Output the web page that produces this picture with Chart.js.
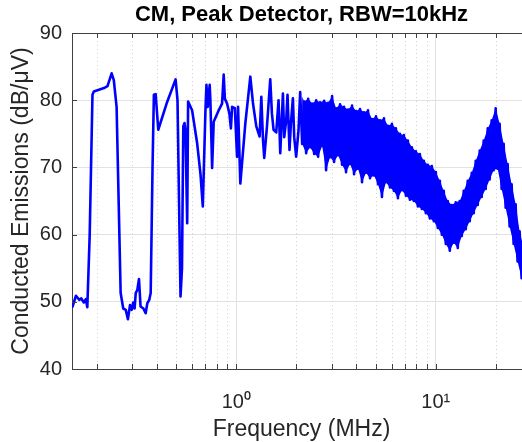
<!DOCTYPE html>
<html><head><meta charset="utf-8">
<script src="https://cdn.jsdelivr.net/npm/chart.js@4.4.1/dist/chart.umd.min.js"></script>
<style>html,body{margin:0;padding:0;background:#fff;overflow:hidden;} #wrap{width:540px;height:442px;}</style>
</head><body><div id="wrap"><canvas id="c" width="540" height="442"></canvas></div>
<script>
const titleText = 'CM, Peak Detector, RBW=10kHz';
const xTitle = 'Frequency (MHz)';
const yTitle = 'Conducted Emissions (dB/μV)';
const yTicks = [40, 50, 60, 70, 80, 90];
const xMajorTicks = [1, 10];
const xMajorLabels = ['10⁰', '10¹'];
const xMinorTicks = [0.2, 0.3, 0.4, 0.5, 0.6, 0.7, 0.8, 0.9, 2, 3, 4, 5, 6, 7, 8, 9, 20, 30];

// measured trace (MHz, dBμV)
const freqMHz = [
  0.151, 0.157, 0.163, 0.167, 0.172, 0.176, 0.179, 0.184, 0.190, 0.193,
  0.217, 0.226, 0.237, 0.243, 0.251, 0.257, 0.263, 0.271, 0.279, 0.286,
  0.293, 0.299, 0.304, 0.309, 0.313, 0.319, 0.325, 0.331, 0.342, 0.351,
  0.358, 0.366, 0.372, 0.380, 0.386, 0.394, 0.406,
  0.447, 0.496, 0.507, 0.516, 0.525, 0.534, 0.542, 0.550, 0.556, 0.567,
  0.573, 0.600, 0.636, 0.661, 0.679, 0.700, 0.708, 0.719, 0.735, 0.741,
  0.756, 0.770, 0.816, 0.848, 0.864, 0.876, 0.898, 0.923, 0.939, 0.952,
  0.983, 1.008, 1.020, 1.047,
  1.109, 1.175, 1.212, 1.259, 1.308, 1.334, 1.360, 1.380, 1.424, 1.479,
  1.508, 1.537, 1.585, 1.628, 1.660, 1.712, 1.738, 1.778, 1.805, 1.847,
  1.877, 1.921, 1.950, 1.995, 2.049,
  2.089, 2.138, 2.188, 2.239, 2.291, 2.344, 2.399, 2.455, 2.512, 2.570,
  2.630, 2.692, 2.754, 2.818, 2.884, 2.951, 3.020, 3.090, 3.162, 3.236,
  3.311, 3.388, 3.467, 3.548, 3.631, 3.715, 3.802, 3.891, 3.981, 4.074,
  4.169, 4.266, 4.365, 4.467, 4.571, 4.677, 4.786, 4.898, 5.012, 5.129,
  5.248, 5.370, 5.495, 5.623, 5.754, 5.888, 6.026, 6.166, 6.310, 6.457,
  6.607, 6.761, 6.918, 7.080, 7.244, 7.413, 7.586, 7.762, 7.943, 8.128,
  8.318, 8.511, 8.710, 8.913, 9.120, 9.333, 9.550, 9.772, 10.00, 10.23,
  10.47, 10.72, 10.96, 11.22, 11.48, 11.75, 12.02, 12.30, 12.59, 12.88,
  13.18, 13.49, 13.80, 14.13, 14.45, 14.79, 15.14, 15.49, 15.85, 16.22,
  16.60, 16.98, 17.38, 17.78, 18.20, 18.62, 19.05, 19.50, 19.95, 20.42,
  20.89, 21.38, 21.88, 22.39, 22.91, 23.44, 23.99, 24.55, 25.12, 25.70,
  26.30, 26.92, 27.54, 28.18, 28.84, 29.51
];

const levelDb = [
  49.3, 50.9, 50.3, 50.5, 49.9, 50.4, 49.2, 60.0, 80.8, 81.3,
  81.8, 82.1, 84.0, 83.0, 79.0, 65.0, 51.3, 49.0, 48.8, 47.4,
  49.5, 48.8, 49.9, 49.0, 51.3, 51.8, 53.4, 49.3, 49.0, 48.3,
  49.8, 50.3, 51.3, 70.0, 80.8, 80.9, 75.6,
  79.5, 83.1, 80.0, 65.0, 50.8, 55.0, 76.1, 76.6, 75.5, 61.7,
  79.8, 78.5, 73.6, 69.0, 64.2, 78.5, 82.3, 79.0, 82.3, 80.0,
  69.9, 76.8, 78.5, 79.5, 83.8, 80.2, 79.5, 78.0, 75.8, 79.0,
  78.8, 71.6, 79.0, 67.6,
  76.5, 83.5, 79.5, 76.1, 74.6, 80.5, 74.1, 71.4, 76.1, 83.1,
  78.0, 75.6, 75.2, 80.0, 72.1, 81.0, 74.5, 77.0, 80.8, 72.6,
  76.5, 80.3, 74.5, 71.6, 75.5,
  81.2, 73.5, 79.8, 72.1, 80.2, 73.0, 79.5, 72.0, 80.0, 71.6,
  79.7, 73.2, 79.9, 69.6, 79.6, 71.5, 80.6, 70.8, 78.8, 71.8,
  79.4, 70.4, 79.0, 69.3, 78.6, 70.5, 79.2, 69.0, 78.4, 69.8,
  78.7, 67.8, 78.2, 69.2, 78.5, 68.4, 77.2, 68.8, 77.6, 67.5,
  77.0, 65.6, 77.3, 67.8, 76.2, 67.0, 76.5, 66.5, 75.8, 65.4,
  75.0, 66.6, 74.8, 65.8, 74.0, 65.2, 73.0, 65.0, 72.4, 64.2,
  72.0, 63.8, 71.0, 63.2, 70.4, 62.4, 70.2, 62.0, 69.3, 61.0,
  68.0, 60.0, 66.5, 58.6, 65.0, 57.6, 64.4, 58.8, 64.8, 58.0,
  65.0, 59.8, 66.5, 60.8, 68.0, 62.0, 69.2, 63.2, 71.0, 64.4,
  72.5, 65.6, 74.0, 66.8, 75.8, 68.2, 77.0, 69.6, 78.8, 69.8,
  76.5, 66.8, 73.5, 64.0, 70.5, 61.2, 67.5, 58.6, 64.5, 56.0,
  60.5, 53.5, 58.0, 52.2, 56.5, 50.8
];

// the dense part of the trace (from 2.09 MHz) alternates peak / trough samples
const denseStartIndex = 96;

const FONT = 'Liberation Sans, Arial, Helvetica, sans-serif';
const TEXT = '#262626';
const AXIS = '#404040';
const GRID = '#e2e2e2';
const BLUE = '#0000ff';

const tracePoints = freqMHz.map((f, i) => ({x: f, y: levelDb[i]}));
const densePoints = tracePoints.slice(denseStartIndex);
const peakPoints = densePoints.filter((p, i) => i % 2 === 0);
const troughPoints = densePoints.filter((p, i) => i % 2 === 1);

const matlabAxes = {
  id: 'matlabAxes',
  beforeDatasetsDraw(chart) {
    const {ctx, chartArea: a, scales: {x}} = chart;
    ctx.save();
    ctx.strokeStyle = '#d2d2d2';
    ctx.lineWidth = 1;
    ctx.setLineDash([1, 3]);
    xMinorTicks.forEach(v => {
      const px = Math.round(x.getPixelForValue(v)) + 0.5;
      ctx.beginPath(); ctx.moveTo(px, a.top); ctx.lineTo(px, a.bottom); ctx.stroke();
    });
    ctx.restore();
  },
  afterDraw(chart) {
    const {ctx, chartArea: a, scales: {x, y}} = chart;
    ctx.save();
    ctx.strokeStyle = AXIS;
    ctx.lineWidth = 1;
    ctx.beginPath();
    const top = Math.round(a.top) + 0.5;
    const right = Math.round(a.right) + 0.5;
    ctx.moveTo(a.left, top); ctx.lineTo(right, top); ctx.lineTo(right, a.bottom);
    [...xMinorTicks, ...xMajorTicks].forEach(v => {
      const px = Math.round(x.getPixelForValue(v)) + 0.5;
      ctx.moveTo(px, a.bottom); ctx.lineTo(px, a.bottom - 5);
      ctx.moveTo(px, a.top); ctx.lineTo(px, a.top + 5);
    });
    yTicks.forEach(v => {
      const py = Math.round(y.getPixelForValue(v)) + 0.5;
      ctx.moveTo(a.left, py); ctx.lineTo(a.left + 5, py);
      ctx.moveTo(a.right, py); ctx.lineTo(a.right - 5, py);
    });
    ctx.stroke();
    ctx.restore();
  }
};

new Chart(document.getElementById('c'), {
  type: 'line',
  data: {
    datasets: [
      {
        data: tracePoints,
        borderColor: BLUE, borderWidth: 2.6,
        pointRadius: 0, tension: 0, fill: false,
        borderJoinStyle: 'round', borderCapStyle: 'round', order: 0
      },
      {
        data: peakPoints,
        borderColor: BLUE, borderWidth: 0, backgroundColor: BLUE,
        pointRadius: 0, tension: 0, fill: '+1', order: 1
      },
      {
        data: troughPoints,
        borderColor: BLUE, borderWidth: 0,
        pointRadius: 0, tension: 0, fill: false, order: 2
      }
    ]
  },
  options: {
    responsive: false,
    animation: false,
    devicePixelRatio: 1,
    layout: {padding: {left: 0, right: 9, top: 0, bottom: 0}},
    plugins: {
      legend: {display: false},
      tooltip: {enabled: false},
      title: {
        display: true, text: titleText, fullSize: false, color: '#000',
        font: {family: FONT, size: 22, weight: 'bold', lineHeight: 1.2},
        padding: {top: 2, bottom: 4.6}
      }
    },
    scales: {
      x: {
        type: 'logarithmic', min: 0.15, max: 30,
        afterBuildTicks: s => { s.ticks = xMajorTicks.map(v => ({value: v})); },
        ticks: {
          callback: v => { const i = xMajorTicks.indexOf(v); return i >= 0 ? xMajorLabels[i] : ''; },
          color: TEXT, font: {family: FONT, size: 20}, padding: 21, maxRotation: 0, autoSkip: false
        },
        grid: {color: GRID, drawTicks: false, lineWidth: 1},
        border: {color: AXIS, width: 1},
        title: {display: true, text: xTitle, color: TEXT, font: {family: FONT, size: 23, lineHeight: 1.0}, padding: {top: 0, bottom: 1}},
        afterFit: s => { s.height = 73; }
      },
      y: {
        min: 40, max: 90,
        afterBuildTicks: s => { s.ticks = yTicks.map(v => ({value: v})); },
        ticks: {color: TEXT, font: {family: FONT, size: 20}, padding: 10},
        grid: {color: GRID, drawTicks: false, lineWidth: 1},
        border: {color: AXIS, width: 1},
        title: {display: true, text: yTitle, color: TEXT, font: {family: FONT, size: 23, lineHeight: 1.2}, padding: {top: 8, bottom: 0}},
        afterFit: s => { s.width = 72; }
      }
    }
  },
  plugins: [matlabAxes]
});
</script>
</body></html>
